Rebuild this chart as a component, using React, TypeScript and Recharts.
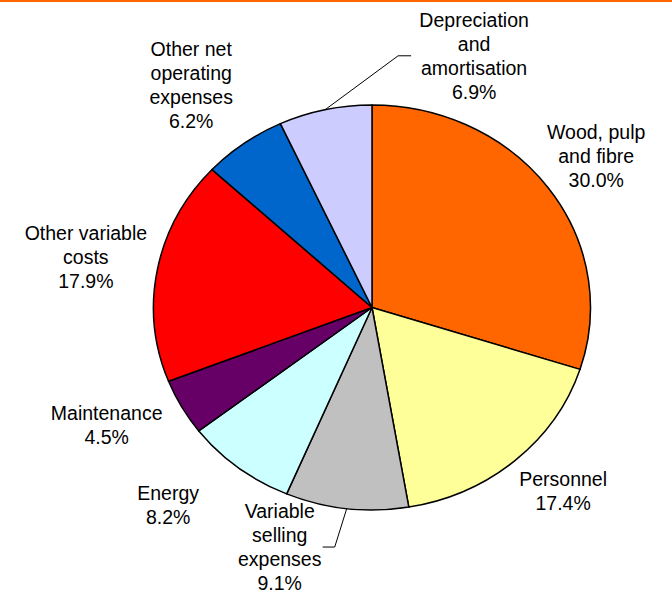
import React from "react";
import { PieChart, Pie, Cell } from "recharts";

const categories = [
  "Wood, pulp and fibre",
  "Personnel",
  "Variable selling expenses",
  "Energy",
  "Maintenance",
  "Other variable costs",
  "Other net operating expenses",
  "Depreciation and amortisation",
];
const shares = [30.0, 17.4, 9.1, 8.2, 4.5, 17.9, 6.2, 6.9];
const labelLines = [
  ["Wood, pulp", "and fibre"],
  ["Personnel"],
  ["Variable", "selling", "expenses"],
  ["Energy"],
  ["Maintenance"],
  ["Other variable", "costs"],
  ["Other net", "operating", "expenses"],
  ["Depreciation", "and", "amortisation"],
];
const colors = ["#FF6600", "#FFFF99", "#C0C0C0", "#CCFFFF", "#660066", "#FF0000", "#0066CC", "#CCCCFF"];

// label layout: radial factor, angular shift (deg), optional leader [elbowDx, endDx]
const labelLayout: { r: number; shift: number; leader?: [number, number] }[] = [
  { r: 1.27, shift: 0 },
  { r: 1.26, shift: -3 },
  { r: 1.256, shift: 13, leader: [55, 43] },
  { r: 1.35, shift: 6 },
  { r: 1.345, shift: 4 },
  { r: 1.333, shift: 0 },
  { r: 1.377, shift: -1 },
  { r: 1.328, shift: 33, leader: [-76, -63] },
];

const data = categories.map((name, i) => ({ name, value: shares[i] }));

const RY_RATIO = 202.5 / 218.5;
const RAD = Math.PI / 180;
const FONT = "'Liberation Sans', Arial, sans-serif";

const EllipseSector = (props: any) => {
  const { cx, cy, outerRadius, startAngle, endAngle, fill } = props;
  const rx = outerRadius;
  const ry = outerRadius * RY_RATIO;
  const pt = (a: number) => [cx + rx * Math.cos(a * RAD), cy - ry * Math.sin(a * RAD)];
  const [x0, y0] = pt(startAngle);
  const [x1, y1] = pt(endAngle);
  const large = Math.abs(endAngle - startAngle) > 180 ? 1 : 0;
  const sweep = startAngle > endAngle ? 1 : 0;
  const d = `M ${cx} ${cy} L ${x0} ${y0} A ${rx} ${ry} 0 ${large} ${sweep} ${x1} ${y1} Z`;
  return <path d={d} fill={fill} stroke="#000" strokeWidth={1.5} strokeLinejoin="round" />;
};

const renderLabel = (props: any) => {
  const { cx, cy, midAngle, outerRadius, index, value } = props;
  const lay = labelLayout[index];
  const rx = outerRadius;
  const ry = outerRadius * RY_RATIO;
  const theta = (90 - midAngle + lay.shift) * RAD; // clockwise from top
  const lx = cx + rx * lay.r * Math.sin(theta);
  const ly = cy - ry * lay.r * Math.cos(theta);
  const lines = [...labelLines[index], `${Number(value).toFixed(1)}%`];
  const n = lines.length;
  const firstBase = ly - (n - 1) * 12 + 7;
  let leader = null;
  if (lay.leader) {
    const t0 = (90 - midAngle) * RAD;
    const ex = cx + rx * Math.sin(t0);
    const ey = cy - ry * Math.cos(t0);
    leader = (
      <polyline
        points={`${ex},${ey} ${lx + lay.leader[0]},${ly} ${lx + lay.leader[1]},${ly}`}
        fill="none"
        stroke="#000"
        strokeWidth={1}
      />
    );
  }
  return (
    <g key={`lbl-${index}`}>
      {leader}
      <text x={lx} y={firstBase} textAnchor="middle" fontFamily={FONT} fontSize={19.5} fill="#000">
        {lines.map((l, i) => (
          <tspan key={i} x={lx} y={firstBase + i * 24}>
            {l}
          </tspan>
        ))}
      </text>
    </g>
  );
};

export default function App() {
  return (
    <div style={{ position: "absolute", left: 0, top: 0, width: 672, height: 595, background: "#fff" }}>
      <div style={{ position: "absolute", left: 0, top: 0, width: 672, height: 1.5, background: "#FF6600" }} />
      <PieChart width={672} height={595} margin={{ top: 0, right: 0, bottom: 0, left: 0 }}>
        <Pie
          data={data}
          dataKey="value"
          nameKey="name"
          cx={372}
          cy={307.5}
          outerRadius={218.5}
          startAngle={90}
          endAngle={-270}
          isAnimationActive={false}
          shape={EllipseSector}
          activeShape={EllipseSector}
          inactiveShape={EllipseSector}
          label={renderLabel}
          labelLine={false}
          stroke="#000"
        >
          {data.map((d, i) => (
            <Cell key={d.name} fill={colors[i]} />
          ))}
        </Pie>
      </PieChart>
    </div>
  );
}
